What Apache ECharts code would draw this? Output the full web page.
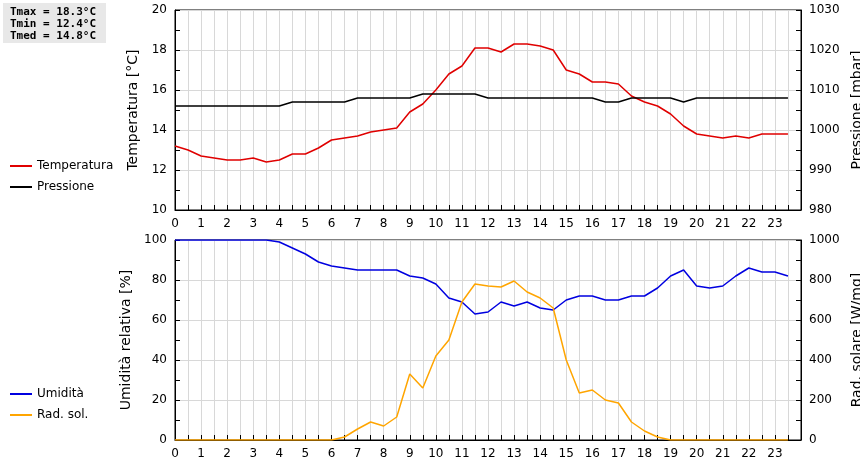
<!DOCTYPE html><html><head><meta charset="utf-8"><script src="https://cdn.jsdelivr.net/npm/echarts@6/dist/echarts.min.js"></script></head><body style="margin:0"><div id="c" style="width:860px;height:460px"></div><script>
const hours=[];for(let i=0;i<48;i++)hours.push(i/2);
const temperatura=[13.2,13.0,12.7,12.6,12.5,12.5,12.6,12.4,12.5,12.8,12.8,13.1,13.5,13.6,13.7,13.9,14.0,14.1,14.9,15.3,16.0,16.8,17.2,18.1,18.1,17.9,18.3,18.3,18.2,18.0,17.0,16.8,16.4,16.4,16.3,15.7,15.4,15.2,14.8,14.2,13.8,13.7,13.6,13.7,13.6,13.8,13.8,13.8];
const pressione=[1006,1006,1006,1006,1006,1006,1006,1006,1006,1007,1007,1007,1007,1007,1008,1008,1008,1008,1008,1009,1009,1009,1009,1009,1008,1008,1008,1008,1008,1008,1008,1008,1008,1007,1007,1008,1008,1008,1008,1007,1008,1008,1008,1008,1008,1008,1008,1008];
const umidita=[100,100,100,100,100,100,100,100,99,96,93,89,87,86,85,85,85,85,82,81,78,71,69,63,64,69,67,69,66,65,70,72,72,70,70,72,72,76,82,85,77,76,77,82,86,84,84,82];
const radsol=[0,0,0,0,0,0,0,0,0,0,0,0,0,15,55,90,70,115,330,260,420,500,690,780,770,765,795,740,710,660,400,235,250,200,185,90,45,15,0,0,0,0,0,0,0,0,0,0];
const stats=['Tmax = 18.3°C','Tmin = 12.4°C','Tmed = 14.8°C'];
const z=(a)=>hours.map((h,i)=>[h,a[i]]);
const F='DejaVu Sans';
function xa(gi){return {type:'value',gridIndex:gi,min:0,max:24,interval:1,axisLine:{lineStyle:{color:'#000'}},axisTick:{inside:true,length:5,lineStyle:{color:'#000'}},minorTick:{show:true,splitNumber:2,length:5,lineStyle:{color:'#000'}},axisLabel:{color:'#000',fontFamily:F,fontSize:12,formatter:v=>v>=24?'':String(v)},splitLine:{lineStyle:{color:'#d8d8d8'}},minorSplitLine:{show:true,lineStyle:{color:'#d8d8d8'}}};}
function ya(gi,min,max,iv,name,pos){return {type:'value',gridIndex:gi,min,max,interval:iv,position:pos,name,nameLocation:'middle',nameGap:pos=='left'?30:38,nameTextStyle:{color:'#000',fontFamily:F,fontSize:14},axisLine:{show:true,lineStyle:{color:'#000'}},axisTick:{inside:true,length:5,lineStyle:{color:'#000'}},minorTick:{show:true,splitNumber:2,length:5,lineStyle:{color:'#000'}},axisLabel:{color:'#000',fontFamily:F,fontSize:12,formatter:v=>String(v)},splitLine:{show:pos=='left',lineStyle:{color:'#d8d8d8'}}};}
const ls=(c)=>({type:'line',showSymbol:false,symbol:'none',lineStyle:{color:c,width:1.5},itemStyle:{color:c},animation:false});
const g={left:175,right:59,height:200,show:true,borderColor:'#000',borderWidth:1,containLabel:false,outerBoundsMode:'none'};
const opt={animation:false,
grid:[Object.assign({top:10},g),Object.assign({top:240},g)],
xAxis:[xa(0),xa(1)],
yAxis:[ya(0,10,20,2,'Temperatura [°C]','left'),ya(0,980,1030,10,'Pressione [mbar]','right'),ya(1,0,100,20,'Umidità relativa [%]','left'),ya(1,0,1000,200,'Rad. solare [W/mq]','right')],
legend:[{orient:'vertical',left:5,top:155,itemWidth:22,itemHeight:2,icon:'rect',itemGap:9,textStyle:{fontFamily:F,fontSize:12,color:'#000'},data:['Temperatura','Pressione']},{orient:'vertical',left:5,top:383,itemWidth:22,itemHeight:2,icon:'rect',itemGap:9,textStyle:{fontFamily:F,fontSize:12,color:'#000'},data:['Umidità','Rad. sol.']}],
graphic:[{type:'rect',left:3,top:3,shape:{width:103,height:40},style:{fill:'#e8e8e8'}},{type:'text',left:10,top:6,style:{text:stats.join('\n'),font:'bold 11px "DejaVu Sans Mono"',lineHeight:12,fill:'#000'}}],
series:[
Object.assign(ls('#e00000'),{name:'Temperatura',xAxisIndex:0,yAxisIndex:0,data:z(temperatura)}),
Object.assign(ls('#000'),{name:'Pressione',xAxisIndex:0,yAxisIndex:1,data:z(pressione)}),
Object.assign(ls('#0000e0'),{name:'Umidità',xAxisIndex:1,yAxisIndex:2,data:z(umidita)}),
Object.assign(ls('#ffa500'),{name:'Rad. sol.',xAxisIndex:1,yAxisIndex:3,data:z(radsol)})]};
echarts.init(document.getElementById('c')).setOption(opt);
</script></body></html>
